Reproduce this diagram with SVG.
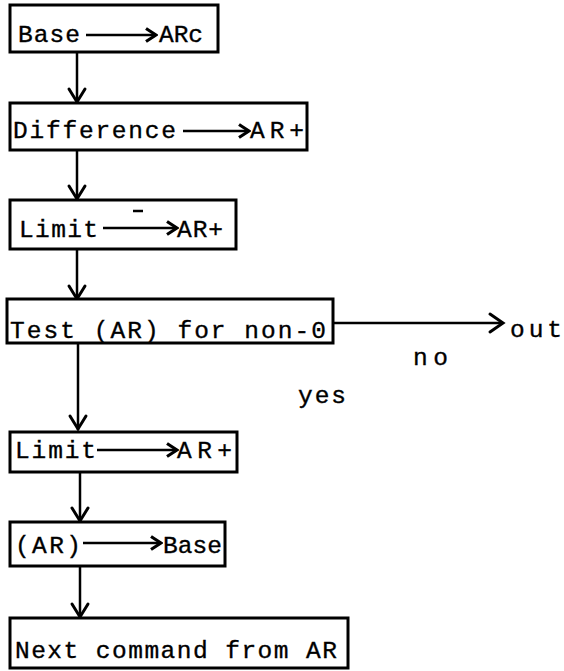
<svg xmlns="http://www.w3.org/2000/svg" width="564" height="671" viewBox="0 0 564 671">
  <style>
    .box { fill: #fff; stroke: #000; stroke-width: 3; }
    .t { font-family: "Liberation Mono", "DejaVu Sans Mono", monospace; font-size: 24.5px; fill: #000; stroke: #000; stroke-width: 0.35; }
    .link { fill: none; stroke: #000; stroke-width: 2.5; }
    .head { fill: none; stroke: #000; stroke-width: 3; stroke-linecap: round; stroke-linejoin: miter; }
    .inl { fill: none; stroke: #000; stroke-width: 2.5; }
  </style>
  <defs>
    <marker id="chev" viewBox="0 0 14 16" refX="12" refY="8" markerWidth="14" markerHeight="16" markerUnits="userSpaceOnUse" orient="auto">
      <path d="M2,1.5 L12,8 L2,14.5" fill="none" stroke="#000" stroke-width="3.2"/>
    </marker>
  </defs>
  <rect width="564" height="671" fill="#fff"/>

  <!-- flow connectors -->
  <g id="connectors">
    <line class="link" x1="77" y1="52" x2="77" y2="103"/>
    <path class="head" d="M69,89 L77,102 L85,89"/>
    <line class="link" x1="77" y1="150" x2="77" y2="199"/>
    <path class="head" d="M69,186 L77,199 L85,186"/>
    <line class="link" x1="77" y1="249" x2="77" y2="299"/>
    <path class="head" d="M69,286 L77,299 L85,286"/>
    <line class="link" x1="78" y1="343" x2="78" y2="430"/>
    <path class="head" d="M70,416 L78,429 L86,416"/>
    <line class="link" x1="80" y1="472" x2="80" y2="522"/>
    <path class="head" d="M72,508 L80,521 L88,508"/>
    <line class="link" x1="80" y1="566" x2="80" y2="618"/>
    <path class="head" d="M72,604 L80,617 L88,604"/>
    <line class="link" x1="333" y1="323" x2="502" y2="323"/>
    <path class="head" d="M490,314 L503,323 L490,332"/>
    <text class="t" x="510" y="337" textLength="52" lengthAdjust="spacing">out</text>
    <text class="t" x="413" y="365" textLength="35" lengthAdjust="spacing">no</text>
    <text class="t" x="298" y="403" textLength="48" lengthAdjust="spacing">yes</text>
  </g>

  <g id="base-to-arc">
    <rect class="box" x="10" y="5" width="208" height="47"/>
    <text class="t" x="18" y="42" textLength="62" lengthAdjust="spacing">Base</text>
    <line class="inl" x1="86" y1="35" x2="156" y2="35" marker-end="url(#chev)"/>
    <text class="t" x="159" y="42" textLength="44" lengthAdjust="spacing">ARc</text>
  </g>

  <g id="difference">
    <rect class="box" x="10" y="103" width="297" height="47"/>
    <text class="t" x="13" y="138" textLength="163" lengthAdjust="spacing">Difference</text>
    <line class="inl" x1="183" y1="131" x2="249" y2="131" marker-end="url(#chev)"/>
    <text class="t" x="250" y="138" textLength="54" lengthAdjust="spacing">AR+</text>
  </g>

  <g id="limit-minus">
    <rect class="box" x="10" y="200" width="226" height="49"/>
    <text class="t" x="19" y="237" textLength="79" lengthAdjust="spacing">Limit</text>
    <line x1="133" y1="211" x2="143" y2="211" stroke="#000" stroke-width="2.5"/>
    <line class="inl" x1="103" y1="228" x2="177" y2="228" marker-end="url(#chev)"/>
    <text class="t" x="177" y="237" textLength="46" lengthAdjust="spacing">AR+</text>
  </g>

  <g id="test-nonzero">
    <rect class="box" x="7" y="299" width="326" height="44"/>
    <text class="t" x="10" y="338" textLength="316" lengthAdjust="spacing">Test (AR) for non-0</text>
  </g>

  <g id="limit-plus">
    <rect class="box" x="10" y="432" width="227" height="40"/>
    <text class="t" x="15" y="458" textLength="81" lengthAdjust="spacing">Limit</text>
    <line class="inl" x1="97" y1="450" x2="177" y2="450" marker-end="url(#chev)"/>
    <text class="t" x="177" y="458" textLength="55" lengthAdjust="spacing">AR+</text>
  </g>

  <g id="ar-to-base">
    <rect class="box" x="10" y="522" width="215" height="44"/>
    <text class="t" x="15" y="553" textLength="66" lengthAdjust="spacing">(AR)</text>
    <line class="inl" x1="83" y1="543" x2="161" y2="543" marker-end="url(#chev)"/>
    <text class="t" x="163" y="553" textLength="59" lengthAdjust="spacing">Base</text>
  </g>

  <g id="next-command">
    <rect class="box" x="10" y="618" width="338" height="50"/>
    <text class="t" x="15" y="658" textLength="322" lengthAdjust="spacing">Next command from AR</text>
  </g>
</svg>
